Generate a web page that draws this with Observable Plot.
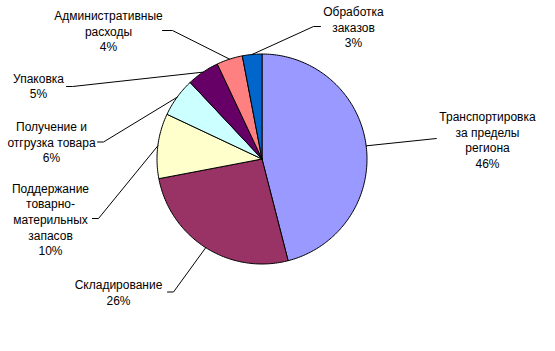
<!DOCTYPE html>
<html>
<head>
<meta charset="utf-8">
<script src="https://cdn.jsdelivr.net/npm/d3@7"></script>
<script src="https://cdn.jsdelivr.net/npm/@observablehq/plot@0.6"></script>
<style>
  html, body { margin: 0; padding: 0; background: #ffffff; }
  #chart svg { display: block; }
</style>
</head>
<body>
<div id="chart"></div>
<script>
// ---- data (clockwise from 12 o'clock) ----
const categories = [
  "Транспортировка за пределы региона",
  "Складирование",
  "Поддержание товарно-материльных запасов",
  "Получение и отгрузка товара",
  "Упаковка",
  "Административные расходы",
  "Обработка заказов"
];
const values = [46, 26, 10, 6, 5, 4, 3];
const labelTexts = [
  "Транспортировка\nза пределы\nрегиона",
  "Складирование",
  "Поддержание\nтоварно-\nматерильных\nзапасов",
  "Получение и\nотгрузка товара",
  "Упаковка",
  "Административные\nрасходы",
  "Обработка\nзаказов"
];
const percentLabels = ["46%", "26%", "10%", "6%", "5%", "4%", "3%"];

// ---- styles ----
const colors = ["#9999FF", "#993366", "#FFFFCC", "#CCFFFF", "#660066", "#FF8080", "#0066CC"];

// ---- layout (pixel frame of the 555x351 picture) ----
const W = 555, H = 351;
const center = [261.5, 158.5], R = 105;
// label block centre and leader elbow / end points
const labelLayout = [
  {x: 487, y: 139,   elbow: [436, 138],   end: [436, 138]},
  {x: 118, y: 291.5, elbow: [173, 291.5], end: [167, 291.5]},
  {x: 50,  y: 218.5, elbow: [98, 218],    end: [92, 218]},
  {x: 51,  y: 141,   elbow: [103, 141.5], end: [97, 141.5]},
  {x: 38,  y: 85,    elbow: [72, 86],     end: [66, 86]},
  {x: 108, y: 30,    elbow: [172, 30],    end: [162, 30]},
  {x: 353, y: 26,    elbow: [313, 26],    end: [320, 26]}
];

const arcs = d3.pie().sort(null).value(d => d)(values);
const pt = (a, r) => [center[0] + r * Math.sin(a), center[1] - r * Math.cos(a)];

const slicePts = [];
arcs.forEach((arc, i) => {
  const name = categories[i];
  slicePts.push({name, p: center});
  const n = Math.max(2, Math.ceil((arc.endAngle - arc.startAngle) / (Math.PI / 180)));
  for (let k = 0; k <= n; k++) {
    const a = arc.startAngle + (arc.endAngle - arc.startAngle) * k / n;
    slicePts.push({name, p: pt(a, R)});
  }
  slicePts.push({name, p: center});
});

const leaderPts = [];
arcs.forEach((arc, i) => {
  const name = categories[i];
  const mid = (arc.startAngle + arc.endAngle) / 2;
  leaderPts.push({name, p: pt(mid, R)});
  leaderPts.push({name, p: labelLayout[i].elbow});
  leaderPts.push({name, p: labelLayout[i].end});
});

const labels = categories.map((c, i) => ({
  name: c,
  text: labelTexts[i] + "\n" + percentLabels[i],
  x: labelLayout[i].x,
  y: labelLayout[i].y
}));

const chart = Plot.plot({
  width: W,
  height: H,
  margin: 0,
  style: {background: "#ffffff", fontFamily: "'Liberation Sans', Arial, sans-serif"},
  x: {domain: [0, W], range: [0, W], axis: null},
  y: {domain: [0, H], range: [0, H], axis: null},
  color: {domain: categories, range: colors},
  marks: [
    Plot.line(slicePts, {
      x: d => d.p[0], y: d => d.p[1], z: "name",
      fill: "name", stroke: "#000000", strokeWidth: 1, curve: "linear", strokeLinejoin: "miter"
    }),
    Plot.line(leaderPts, {
      x: d => d.p[0], y: d => d.p[1], z: "name",
      stroke: "#000000", strokeWidth: 1
    }),
    Plot.text(labels, {
      x: "x", y: "y", text: "text",
      fontSize: 12, lineHeight: 1.3, textAnchor: "middle", lineAnchor: "middle",
      fill: "#000000"
    })
  ]
});
document.getElementById("chart").appendChild(chart);
</script>
</body>
</html>
